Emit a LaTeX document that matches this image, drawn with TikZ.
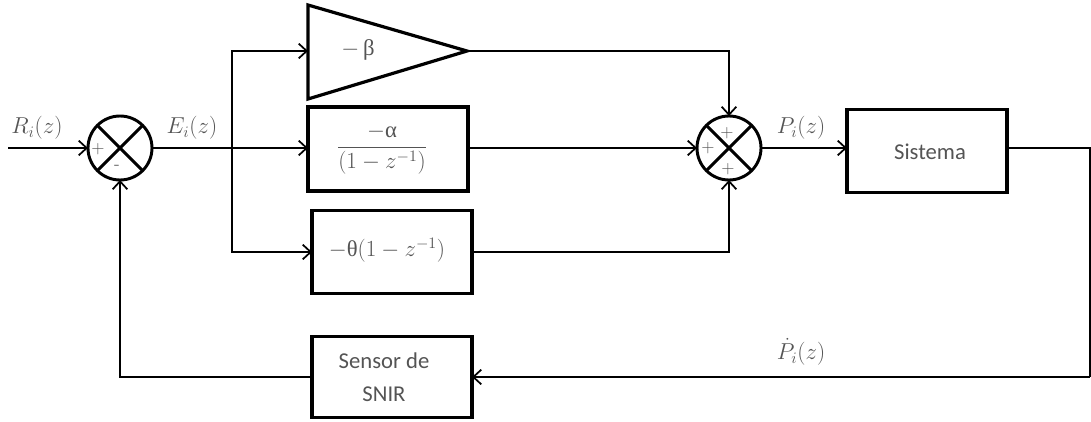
\documentclass[tikz,border=0pt]{standalone}
\usepackage{fontspec}
\usepackage{amsmath}
\newfontfamily\calib{Carlito}
\newfontfamily\grk{Liberation Serif}
\usetikzlibrary{arrows.meta,calc}
\definecolor{txt}{rgb}{0.33,0.33,0.33}
\begin{document}
\begin{tikzpicture}[x=0.75pt,y=-0.75pt,
  conn/.style={line width=1.5pt, draw=black},
  arr/.style={conn, -{Straight Barb[length=6pt,width=11pt,line width=1.3pt]}},
  blk/.style={draw, line width=2.4pt, minimum width=120pt, minimum height=62pt, inner sep=0pt, outer sep=0pt},
  sumnode/.style={circle, draw, line width=2.2pt, minimum size=48pt, inner sep=0pt, outer sep=0pt},
  lbl/.style={text=txt, font=\fontsize{17}{20}\selectfont, inner sep=0pt},
  txtlbl/.style={text=txt, font=\calib\fontsize{17}{25}\selectfont, align=center},
  sgn/.style={text=txt, font=\fontsize{13}{15}\selectfont, inner sep=0pt},
]
\useasboundingbox (0,0) rectangle (1091,421);

% summing junctions
\node[sumnode] (s1) at (120,148) {};
\draw[line width=2.2pt] (s1.45) -- (s1.225) (s1.135) -- (s1.315);
\node[sumnode] (s2) at (729,148) {};
\draw[line width=2.2pt] (s2.45) -- (s2.225) (s2.135) -- (s2.315);

\node[sgn] (s1p) at ($(s1)+(-22,1)$) {+};
\node[sgn] (s1m) at ($(s1)+(-3,19)$) {-};
\node[sgn] (s2t) at ($(s2)+(-2,-15)$) {+};
\node[sgn] (s2l) at ($(s2)+(-21,0)$) {+};
\node[sgn] (s2b) at ($(s2)+(-1,21)$) {+};

% triangle gain
\coordinate (triL) at (308,51);
\coordinate (triT) at (467,51);
\draw[line width=2.4pt, line join=miter] (308,5) -- (467,51) -- (308,99) -- cycle;
\node[lbl] (beta) at (358,50) {$-\,\mbox{\grk β}$};

% blocks
\node[blk, minimum height=63pt] (alpha) at (388,149) {};
\node[lbl] (alphat) at (382,149) {$\dfrac{-\mbox{\grk α}}{(1-z^{-1})}$};
\node[blk] (theta) at (392,252) {};
\node[lbl] (thetat) at (387,250) {$-\mbox{\grk θ}(1-z^{-1})$};
\node[blk] (sis) at (927,151) {};
\node[txtlbl] (sist) at (930,152) {Sistema};
\node[blk, minimum height=61pt] (sen) at (392,377) {};
\node[txtlbl] (sent) at (384,377) {Sensor de\\SNIR};

% coordinates
\coordinate (in) at (8,148);
\coordinate (br) at (232,148);
\coordinate (out) at (1090,148);
\coordinate (fb) at (1090,377);

% connectors
\draw[arr] (in) -- (s1.west);
\draw[conn] (s1.east) -- (br);
\draw[arr] (br) |- (triL);
\draw[arr] (br) -- (br -| alpha.west);
\draw[arr] (br) |- (theta.west);
\draw[arr] (triT) -| (s2.north);
\draw[arr] (alpha.east |- s2) -- (s2.west);
\draw[arr] (theta.east) -| (s2.south);
\draw[arr] (s2.east) -- (s2.east -| sis.west);
\draw[conn] (sis.east |- out) -- (out) -- (fb);
\draw[arr] (fb) -- (sen.east);
\draw[arr] (sen.west) -| (s1.south);

% signal labels
\node[lbl] (R) at (37,128) {$R_i(z)$};
\node[lbl] (E) at (192,128) {$E_i(z)$};
\node[lbl] (P) at (801,128) {$P_i(z)$};
\node[lbl] (Pd) at (801,352) {$\dot{P}_i(z)$};
\end{tikzpicture}
\end{document}
